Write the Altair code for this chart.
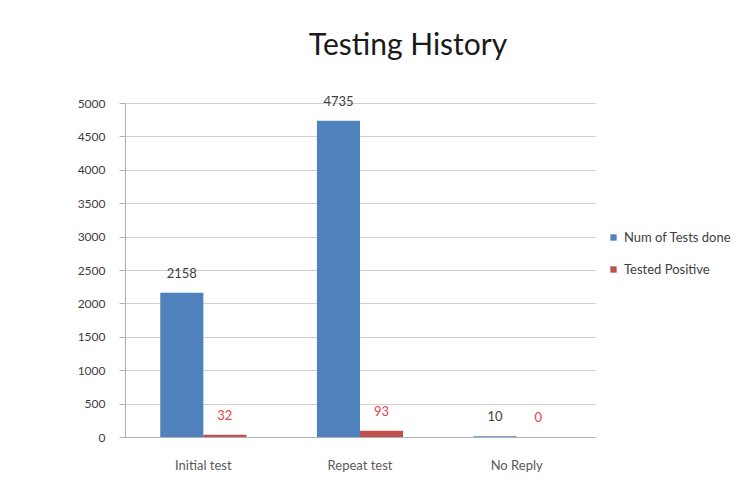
import altair as alt
import pandas as pd

categories = ["Initial test", "Repeat test", "No Reply"]
series = ["Num of Tests done", "Tested Positive"]
tests_done = [2158, 4735, 10]
tested_positive = [32, 93, 0]
y_ticks = list(range(0, 5001, 500))

rows = []
for c, a, b in zip(categories, tests_done, tested_positive):
    rows.append({"category": c, "series": series[0], "value": a})
    rows.append({"category": c, "series": series[1], "value": b})
df = pd.DataFrame(rows)

FONT = "Lato"

x_enc = alt.X("category:N", sort=categories, title=None,
              scale=alt.Scale(paddingInner=0.45, paddingOuter=0.225),
              axis=alt.Axis(labelAngle=0, ticks=False, labelPadding=22,
                            labelFontSize=13, labelColor="#595959",
                            domainColor="#b0b0b0", labelFont=FONT))
y_enc = alt.Y("value:Q", title=None,
              scale=alt.Scale(domain=[0, 5000], nice=False),
              axis=alt.Axis(values=y_ticks, format="d", labelFontSize=12, labelColor="#404040",
                            tickSize=6, tickColor="#b0b0b0", domainColor="#b0b0b0",
                            gridColor="#cfcfcf", labelPadding=14, labelFont=FONT))
xo = alt.XOffset("series:N", sort=series, scale=alt.Scale(paddingInner=0, paddingOuter=0))

bars = alt.Chart(df).mark_bar().encode(
    x=x_enc, y=y_enc, xOffset=xo,
    color=alt.Color("series:N", sort=series,
                    scale=alt.Scale(domain=series, range=["#4F81BD", "#C0504D"]),
                    legend=alt.Legend(title=None, orient="none", legendX=482, legendY=128,
                                      symbolType="square", symbolSize=40,
                                      labelFontSize=13, labelColor="#404040",
                                      rowPadding=18, labelFont=FONT, symbolStrokeWidth=0)),
)

labels = alt.Chart(df).mark_text(baseline="middle", dy=-19, fontSize=13, font=FONT).encode(
    x=x_enc, y=y_enc, xOffset=xo,
    text=alt.Text("value:Q"),
    color=alt.condition(alt.datum.series == series[1], alt.value("#e8434a"), alt.value("#404040")),
)

chart = (bars + labels).properties(
    width=470, height=334,
    title=alt.TitleParams("Testing History", fontSize=30, font=FONT, fontWeight="normal",
                          color="#1a1a1a", anchor="middle", dx=48, offset=35),
    padding={"left": 117, "top": 95, "right": 140, "bottom": 56},
    autosize=alt.AutoSizeParams(type="none"),
    background="white",
).configure_view(stroke=None)

chart.save("out.html", embed_options={"renderer": "svg", "actions": False})
